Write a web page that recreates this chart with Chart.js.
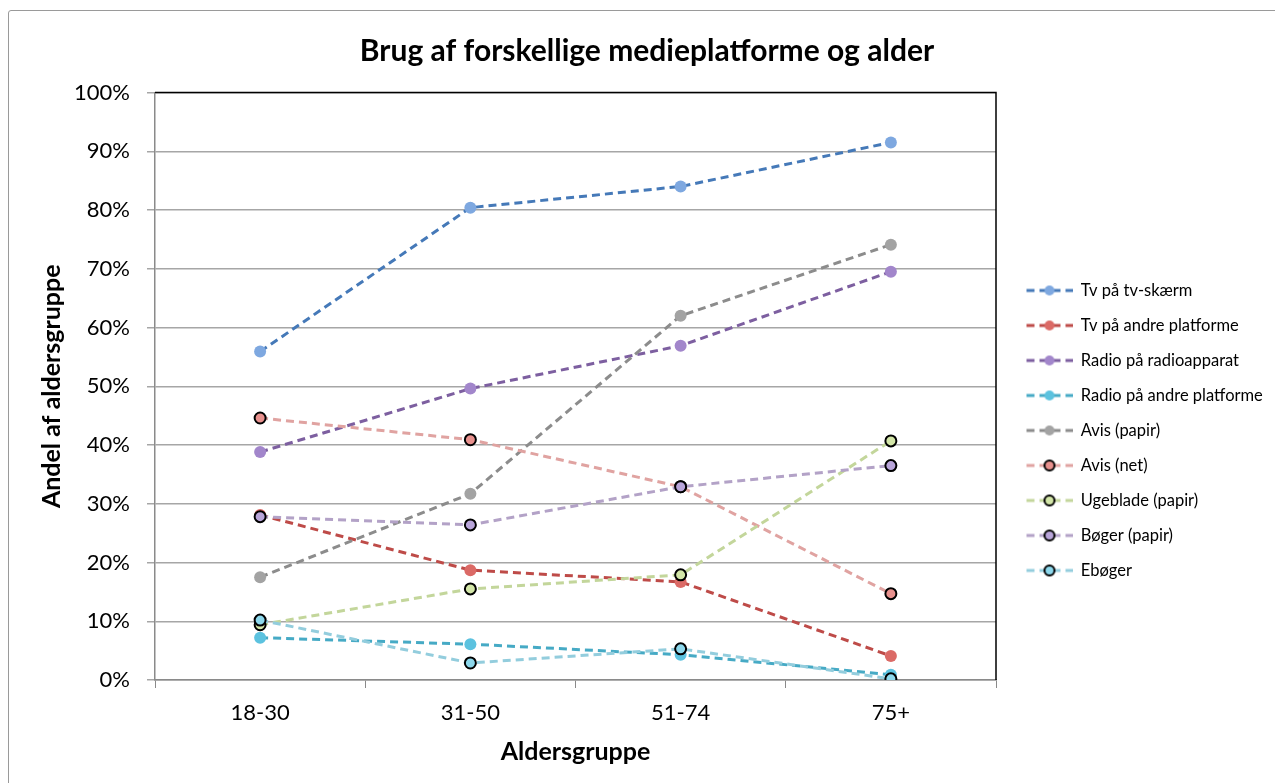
<!DOCTYPE html>
<html>
<head>
<meta charset="utf-8">
<script src="https://cdn.jsdelivr.net/npm/chart.js@4/dist/chart.umd.min.js"></script>
<style>
html,body{margin:0;padding:0;background:#fff;}
#wrap{position:relative;width:1275px;height:783px;}
#frame{position:absolute;left:8px;top:10px;width:1280px;height:790px;border:1px solid #9a9a9a;border-radius:3px;box-sizing:border-box;pointer-events:none;}
canvas{position:absolute;left:0;top:0;}
</style>
</head>
<body>
<div id="wrap">
<canvas id="c" width="1275" height="783"></canvas>
<div id="frame"></div>
</div>
<script>
const categories = ['18-30', '31-50', '51-74', '75+'];
const seriesNames = ['Tv på tv-skærm', 'Tv på andre platforme', 'Radio på radioapparat', 'Radio på andre platforme', 'Avis (papir)', 'Avis (net)', 'Ugeblade (papir)', 'Bøger (papir)', 'Ebøger'];
const tvSkaerm = [55.9, 80.4, 84.0, 91.5];
const tvAndre = [28.1, 18.7, 16.7, 4.1];
const radioApparat = [38.8, 49.6, 56.9, 69.5];
const radioAndre = [7.2, 6.1, 4.3, 0.9];
const avisPapir = [17.5, 31.7, 62.0, 74.1];
const avisNet = [44.6, 40.9, 32.9, 14.7];
const ugeblade = [9.4, 15.5, 17.9, 40.7];
const boeger = [27.8, 26.4, 32.9, 36.5];
const eboeger = [10.2, 2.9, 5.3, 0.2];
const yTicks = [0, 10, 20, 30, 40, 50, 60, 70, 80, 90, 100];

const seriesValues = [tvSkaerm, tvAndre, radioApparat, radioAndre, avisPapir, avisNet, ugeblade, boeger, eboeger];
const lineColors = ['#4579B8', '#BE4B48', '#7D5FA0', '#46AAC5', '#8C8C8C', '#E0A3A1', '#C3D69B', '#B3A2C7', '#93CDDD'];
const pointColors = ['#7EA8E0', '#DB6A66', '#A286CB', '#5CC2DF', '#A3A3A3', '#E8918E', '#D3E6A8', '#B9A5DA', '#8DD8EC'];
const blackBorder = [false, false, false, false, false, true, true, true, true];

const FONT = 'Lato, "Open Sans", sans-serif';

function legendImage(i) {
  const cv = document.createElement('canvas');
  cv.width = 58; cv.height = 16;
  const g = cv.getContext('2d');
  g.strokeStyle = lineColors[i];
  g.lineWidth = 3;
  g.setLineDash([8, 5]);
  g.beginPath(); g.moveTo(12, 8); g.lineTo(58, 8); g.stroke();
  g.setLineDash([]);
  g.beginPath(); g.arc(35, 8, 5, 0, Math.PI * 2);
  g.fillStyle = pointColors[i]; g.fill();
  if (blackBorder[i]) { g.lineWidth = 2; g.strokeStyle = '#000'; g.stroke(); }
  return cv;
}
const legendImages = seriesNames.map((_, i) => legendImage(i));

const datasets = seriesNames.map((name, i) => ({
  label: name,
  data: seriesValues[i],
  borderColor: lineColors[i],
  backgroundColor: pointColors[i],
  borderWidth: 3,
  borderDash: [8, 5],
  pointRadius: blackBorder[i] ? 5.5 : 6,
  pointBackgroundColor: pointColors[i],
  pointBorderColor: blackBorder[i] ? '#000' : pointColors[i],
  pointBorderWidth: blackBorder[i] ? 2 : 0,
  tension: 0,
  fill: false,
  order: seriesNames.length - i
}));

const LEGEND_WIDTH = 279;
const fixedLegend = {
  id: 'fixedLegend',
  beforeLayout(chart) {
    const lg = chart.legend;
    if (lg && !lg._patched) {
      const orig = lg.fit;
      lg.fit = function () { orig.call(this); this.width = LEGEND_WIDTH; };
      lg._patched = true;
    }
  }
};

const frameBorder = {
  id: 'frameBorder',
  beforeDatasetsDraw(chart) {
    const a = chart.chartArea, ctx = chart.ctx;
    ctx.save();
    ctx.strokeStyle = '#000';
    ctx.lineWidth = 1.5;
    ctx.beginPath();
    ctx.moveTo(a.left, a.top);
    ctx.lineTo(a.right, a.top);
    ctx.lineTo(a.right, a.bottom);
    ctx.stroke();
    ctx.restore();
  }
};

new Chart(document.getElementById('c'), {
  type: 'line',
  data: { labels: categories, datasets },
  plugins: [fixedLegend, frameBorder],
  options: {
    responsive: false,
    animation: false,
    events: [],
    layout: { padding: { left: 19, right: 0, top: 0, bottom: 0 } },
    plugins: {
      title: {
        display: true,
        text: 'Brug af forskellige medieplatforme og alder',
        color: '#000',
        font: { family: FONT, size: 30, weight: 'bold' },
        padding: { top: 33, bottom: 23.5 }
      },
      legend: {
        display: true,
        position: 'right',
        align: 'center',
        title: { display: true, text: ' ', font: { size: 10 }, padding: { top: 66, bottom: 0 } },
        labels: {
          usePointStyle: true,
          pointStyleWidth: 58,
          boxHeight: 14,
          padding: 18.5,
          color: '#000',
          font: { family: FONT, size: 16.5 },
          generateLabels: () => seriesNames.map((n, i) => ({
            text: n,
            pointStyle: legendImages[i],
            fillStyle: pointColors[i],
            strokeStyle: lineColors[i],
            lineWidth: 0,
            hidden: false,
            datasetIndex: i,
            fontColor: '#000'
          }))
        }
      },
      tooltip: { enabled: false }
    },
    scales: {
      x: {
        type: 'category',
        offset: true,
        grid: { display: true, drawOnChartArea: false, offset: true, tickLength: 8, color: '#8a8a8a', lineWidth: 1 },
        border: { display: true, color: '#8a8a8a', width: 1.5 },
        ticks: { color: '#000', font: { family: FONT, size: 22 }, padding: 12 },
        title: { display: true, text: 'Aldersgruppe', color: '#000', font: { family: FONT, size: 25, weight: 'bold' }, padding: { top: 0, bottom: 16 } },
        afterFit(s) { s.height = 103; }
      },
      y: {
        min: 0,
        max: 100,
        afterBuildTicks(s) { s.ticks = yTicks.map(v => ({ value: v })); },
        grid: { color: '#a6a6a6', lineWidth: 1.5, tickLength: 8, drawTicks: true },
        border: { display: true, color: '#8a8a8a', width: 1.5 },
        ticks: { color: '#000', font: { family: FONT, size: 22 }, padding: 17, callback: v => v + '%' },
        title: { display: true, text: 'Andel af aldersgruppe', color: '#000', font: { family: FONT, size: 25, weight: 'bold' }, padding: { top: 18, bottom: 0 } },
        afterFit(s) { s.width = 136; }
      }
    }
  }
});
</script>
</body>
</html>
